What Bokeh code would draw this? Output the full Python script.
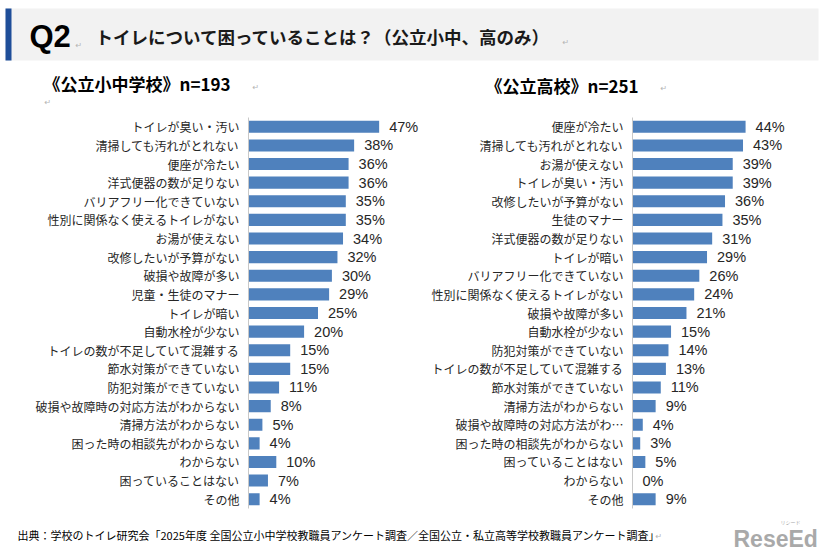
from bokeh.plotting import figure
from bokeh.layouts import column, row
from bokeh.models import Range1d, FactorRange, ColumnDataSource
from bokeh.core.properties import value
from bokeh.embed import file_html
from bokeh.resources import INLINE

# ---------------- data ----------------
title_q = "Q2"
title_text = "トイレについて困っていることは？（公立小中、高のみ）"
left_title = "《公立小中学校》n=193"
right_title = "《公立高校》n=251"
source_text = "出典：学校のトイレ研究会「2025年度  全国公立小中学校教職員アンケート調査／全国公立・私立高等学校教職員アンケート調査」"

left_cats = [
    "トイレが臭い・汚い", "清掃しても汚れがとれない", "便座が冷たい", "洋式便器の数が足りない",
    "バリアフリー化できていない", "性別に関係なく使えるトイレがない", "お湯が使えない",
    "改修したいが予算がない", "破損や故障が多い", "児童・生徒のマナー", "トイレが暗い",
    "自動水栓が少ない", "トイレの数が不足していて混雑する", "節水対策ができていない",
    "防犯対策ができていない", "破損や故障時の対応方法がわからない", "清掃方法がわからない",
    "困った時の相談先がわからない", "わからない", "困っていることはない", "その他",
]
left_vals = [47, 38, 36, 36, 35, 35, 34, 32, 30, 29, 25, 20, 15, 15, 11, 8, 5, 4, 10, 7, 4]

right_cats = [
    "便座が冷たい", "清掃しても汚れがとれない", "お湯が使えない", "トイレが臭い・汚い",
    "改修したいが予算がない", "生徒のマナー", "洋式便器の数が足りない", "トイレが暗い",
    "バリアフリー化できていない", "性別に関係なく使えるトイレがない", "破損や故障が多い",
    "自動水栓が少ない", "防犯対策ができていない", "トイレの数が不足していて混雑する",
    "節水対策ができていない", "清掃方法がわからない", "破損や故障時の対応方法がわ…",
    "困った時の相談先がわからない", "困っていることはない", "わからない", "その他",
]
right_vals = [44, 43, 39, 39, 36, 35, 31, 29, 26, 24, 21, 15, 14, 13, 11, 9, 4, 3, 5, 0, 9]

# ---------------- styles ----------------
JP = value("Noto Sans CJK JP")
LAT = value("Liberation Sans")
BAR = "#4F81BD"
TXT = "#262626"
MARK = "#b5b5b5"


def blank(w, h, y0, y1):
    p = figure(width=w, height=h, x_range=Range1d(0, w), y_range=Range1d(start=y1, end=y0),
               output_backend="svg", toolbar_location=None,
               min_border_left=0, min_border_right=0, min_border_top=0, min_border_bottom=0)
    p.axis.visible = False
    p.grid.visible = False
    p.outline_line_color = None
    p.background_fill_color = "white"
    p.border_fill_color = "white"
    return p


# header
hdr = blank(826, 115, 0, 115)
hdr.quad(left=5, right=818, top=8, bottom=60, fill_color="#f2f2f2", line_color=None)
hdr.quad(left=5, right=11, top=8, bottom=60, fill_color="#1F4E99", line_color=None)
hdr.text(x=[29], y=[36], text=[title_q], text_font=LAT, text_font_style="bold",
         text_font_size="31px", text_baseline="middle", text_color="#000000")
hdr.text(x=[95], y=[36], text=[title_text], text_font=JP, text_font_size="17.5px",
         text_font_style="bold", text_baseline="middle", text_color="#1a1a1a")
hdr.text(x=[43], y=[83], text=[left_title], text_font=JP, text_font_style="bold",
         text_font_size="17px", text_baseline="middle", text_color="#000000")
hdr.text(x=[485], y=[85], text=[right_title], text_font=JP, text_font_style="bold",
         text_font_size="17px", text_baseline="middle", text_color="#000000")
hdr.text(x=[75, 562, 252, 44, 660], y=[45, 42, 87, 102, 88], text=["↵"] * 5,
         text_font=value("DejaVu Sans"), text_font_size="8px", text_baseline="middle",
         text_color=MARK)


def chart(cats, vals, w, frame_left, xmax, top, bottom):
    p = figure(width=w, height=400, y_range=FactorRange(*reversed(cats)),
               x_range=Range1d(0, xmax), output_backend="svg", toolbar_location=None,
               min_border_left=frame_left, min_border_right=0,
               min_border_top=top, min_border_bottom=bottom)
    src = ColumnDataSource(dict(cat=cats, val=vals, lab=[f"{v}%" for v in vals]))
    p.hbar(y="cat", right="val", left=0, height=0.65, source=src,
           fill_color=BAR, line_color=None)
    p.text(x="val", y="cat", text="lab", source=src, x_offset=10, text_baseline="middle",
           text_font=LAT, text_font_size="14.5px", text_color=TXT)
    p.xaxis.visible = False
    p.grid.visible = False
    p.outline_line_color = None
    ya = p.yaxis[0]
    ya.axis_line_color = "#c8c8c8"
    ya.major_tick_line_color = None
    ya.minor_tick_line_color = None
    ya.major_tick_out = 0
    ya.major_label_standoff = 9
    ya.major_label_text_font = "Noto Sans CJK JP"
    ya.major_label_text_font_size = "12px"
    ya.major_label_text_color = TXT
    return p


left = chart(left_cats, left_vals, 420, 248, 172 / 2.78, 0, 7)
right = chart(right_cats, right_vals, 406, 212, 194 / 2.57, 2, 5)

# footer
ftr = blank(826, 37, 515, 552)
ftr.text(x=[17], y=[534], text=[source_text], text_font=JP, text_font_size="11px",
         text_baseline="middle", text_color="#000000")
ftr.text(x=[655], y=[536], text=["↵"], text_font=value("DejaVu Sans"),
         text_font_size="8px", text_baseline="middle", text_color=MARK)
ftr.text(x=[733], y=[538], text=["ReseEd"], text_font=LAT, text_font_style="bold",
         text_font_size="23px", text_baseline="middle", text_color="#a9a9a9")
ftr.text(x=[780], y=[521], text=["リシード"], text_font=JP, text_font_size="5px",
         text_baseline="middle", text_color="#a9a9a9")

page = column(hdr, row(left, right, spacing=0), ftr, spacing=0)
open("out.html", "w").write(file_html(page, INLINE))
